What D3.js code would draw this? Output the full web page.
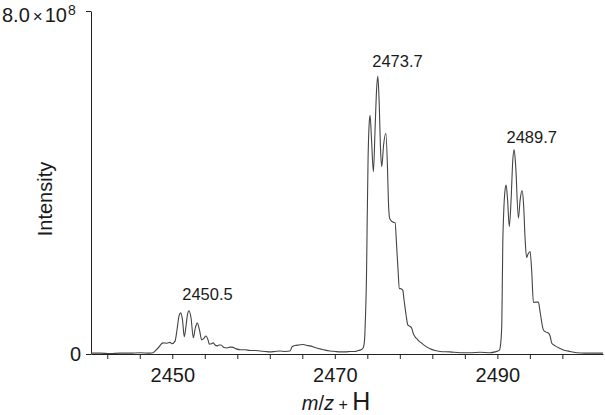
<!DOCTYPE html>
<html><head><meta charset="utf-8">
<script src="https://cdn.jsdelivr.net/npm/d3@7"></script>
<style>body{margin:0;background:#fff}svg{display:block}text{font-family:"Liberation Sans",Arial,sans-serif;fill:#1a1a1a}</style>
</head><body><svg id="c" width="605" height="415"></svg>
<script>
// m/z values
const mz = [2440.00,2441.11,2442.34,2443.57,2444.80,2446.03,2447.26,2447.63,2448.25,2448.86,2449.35,2449.72,2449.97,2450.34,2450.58,2450.83,2451.04,2451.26,2451.48,2451.69,2451.88,2452.06,2452.31,2452.59,2452.84,2453.08,2453.35,2453.62,2453.91,2454.15,2454.40,2454.56,2454.83,2455.05,2455.26,2455.51,2455.75,2456.00,2456.37,2456.74,2457.11,2457.35,2457.85,2458.34,2458.95,2459.57,2460.18,2460.80,2461.42,2462.03,2462.65,2463.26,2463.88,2464.49,2464.74,2465.11,2465.60,2466.09,2466.58,2466.95,2467.57,2468.18,2468.80,2469.42,2470.03,2470.65,2471.38,2471.88,2472.49,2472.86,2473.23,2473.48,2473.66,2473.76,2473.91,2473.97,2474.09,2474.22,2474.34,2474.52,2474.75,2474.95,2475.14,2475.29,2475.45,2475.63,2475.78,2476.00,2476.28,2476.49,2476.59,2476.74,2476.92,2477.23,2477.42,2477.60,2477.78,2477.94,2478.15,2478.36,2478.52,2478.77,2478.98,2479.20,2479.47,2479.63,2479.88,2480.12,2480.37,2480.70,2481.11,2481.72,2482.34,2482.95,2484.18,2485.42,2486.65,2487.88,2489.11,2489.72,2490.25,2490.42,2490.55,2490.67,2490.77,2490.95,2491.08,2491.26,2491.47,2491.69,2491.90,2492.06,2492.25,2492.59,2492.80,2493.05,2493.23,2493.42,2493.60,2493.78,2494.03,2494.22,2494.44,2494.71,2495.05,2495.26,2495.67,2496.00,2496.28,2496.49,2496.70,2497.11,2497.72,2498.34,2498.95,2499.78,2500.80,2502.03,2503.00];
// intensity, units of 1e8
const intensity = [0.02,0.02,0.01,0.02,0.02,0.03,0.02,0.03,0.14,0.26,0.25,0.27,0.24,0.30,0.56,0.89,0.96,0.79,0.40,0.65,0.93,1.01,0.84,0.38,0.61,0.72,0.56,0.33,0.37,0.42,0.33,0.23,0.24,0.26,0.21,0.19,0.21,0.21,0.15,0.14,0.16,0.16,0.12,0.10,0.10,0.08,0.08,0.07,0.06,0.05,0.06,0.07,0.06,0.07,0.17,0.20,0.21,0.22,0.20,0.19,0.15,0.12,0.09,0.07,0.06,0.05,0.05,0.06,0.06,0.08,0.10,0.14,0.33,0.79,1.96,2.89,4.52,5.34,5.57,4.99,4.25,5.22,6.16,6.48,5.92,4.76,4.37,4.87,5.15,4.29,3.59,3.17,3.11,3.07,3.06,2.54,1.96,1.53,1.52,1.49,1.26,0.91,0.68,0.65,0.60,0.49,0.40,0.35,0.30,0.25,0.19,0.12,0.08,0.06,0.05,0.03,0.03,0.04,0.03,0.05,0.09,0.26,0.72,2.59,3.24,3.83,3.94,3.59,2.97,3.59,4.52,4.77,4.41,3.17,3.59,3.81,3.48,2.66,2.25,2.33,2.39,1.96,1.20,1.21,1.21,0.98,0.56,0.51,0.49,0.42,0.25,0.19,0.13,0.08,0.06,0.03,0.02,0.02,0.02];
const xTicks = [2442,2446,2450,2454,2458,2462,2466,2470,2474,2478,2482,2486,2490,2494,2498];
const xTickLabels = [2450,2470,2490];
const peakLabels = ["2450.5","2473.7","2489.7"];
const peakLabelPos = [2454.33,2477.71,2494.23]; // m/z positions of the labels
const peakLabelVal = [1.26,6.70,4.91];          // label baseline height, 1e8 units

const svg = d3.select("#c");
const x = d3.scaleLinear().domain([2440,2503]).range([91,603]);
const y = d3.scaleLinear().domain([0,8]).range([354,11]);

// x axis
const xa = svg.append("g").attr("transform","translate(0,354)")
  .call(d3.axisBottom(x).tickValues(xTicks).tickSize(5).tickSizeOuter(0)
    .tickFormat(d => xTickLabels.includes(d) ? d : ""));
xa.select(".domain").attr("stroke","#222");
xa.selectAll(".tick line").attr("stroke","#222");
xa.selectAll("text").attr("font-size",20).attr("dy",null).attr("y",28)
  .style("font-family","'Liberation Sans',Arial,sans-serif").attr("fill","#1a1a1a");

// y axis
const ya = svg.append("g").attr("transform","translate(91,0)")
  .call(d3.axisLeft(y).tickValues([0,8]).tickSize(5).tickSizeOuter(0).tickFormat(() => ""));
ya.select(".domain").attr("stroke","#222");
ya.selectAll(".tick line").attr("stroke","#222");

svg.append("text").attr("x",81).attr("y",y(0)+7).attr("text-anchor","end").attr("font-size",20).text("0");
const t8 = svg.append("text").attr("x",2).attr("y",22).attr("font-size",20);
t8.append("tspan").text("8.0");
t8.append("tspan").attr("dx",3).attr("font-size",17).text("\u00d7");
t8.append("tspan").attr("dx",2).text("10");
t8.append("tspan").attr("dy",-7).attr("dx",1).attr("font-size",14).text("8");

// axis titles
svg.append("text").attr("transform","translate(52,199) rotate(-90)").attr("text-anchor","middle")
  .attr("font-size",20).text("Intensity");
const xl = svg.append("text").attr("x",336).attr("y",410).attr("text-anchor","middle");
xl.append("tspan").attr("font-style","italic").attr("font-size",20).text("m");
xl.append("tspan").attr("font-size",20).text("/");
xl.append("tspan").attr("font-style","italic").attr("font-size",20).text("z");
xl.append("tspan").attr("font-size",16).text(" + ");
xl.append("tspan").attr("font-size",25).text("H");

// spectrum
const data = mz.map((m,i) => [m, intensity[i]]);
svg.append("path").datum(data)
  .attr("d", d3.line().x(d => x(d[0])).y(d => y(d[1])).curve(d3.curveMonotoneX))
  .attr("fill","none").attr("stroke","#444").attr("stroke-width",1.1);

// peak labels
svg.selectAll(".pl").data(peakLabels).join("text").attr("class","pl")
  .attr("x",(d,i) => x(peakLabelPos[i])).attr("y",(d,i) => y(peakLabelVal[i]))
  .attr("text-anchor","middle").attr("font-size",16.5).text(d => d);
</script></body></html>
